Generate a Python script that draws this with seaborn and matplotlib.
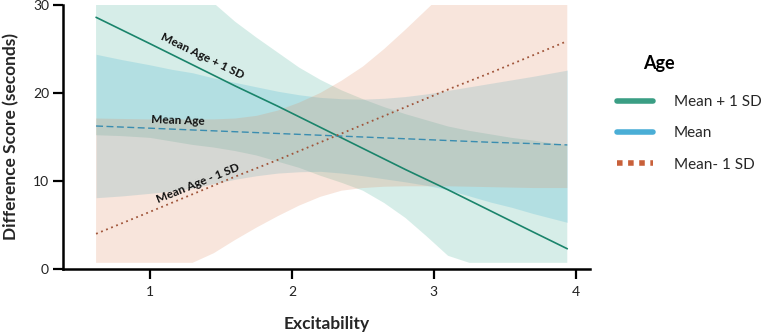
import numpy as np
import pandas as pd
import matplotlib
matplotlib.use("Agg")
import matplotlib.pyplot as plt
import seaborn as sns
from matplotlib.lines import Line2D

# ---- data ----
# regression lines
line_x     = [0.62, 1.0, 1.3, 1.6, 1.9, 2.2, 2.5, 2.8, 3.1, 3.4, 3.7, 3.94]
plus_line  = [28.6, 25.6, 23.2, 20.8, 18.5, 16.1, 13.7, 11.3, 9.0, 6.6, 4.2, 2.3]
mean_line  = [16.25, 16.0, 15.8, 15.6, 15.4, 15.2, 15.0, 14.8, 14.6, 14.4, 14.25, 14.1]
minus_line = [4.0, 6.5, 8.5, 10.5, 12.4, 14.4, 16.4, 18.4, 20.4, 22.3, 24.3, 25.9]

# confidence bands
band_x = [0.62, 0.8, 1.0, 1.15, 1.3, 1.45, 1.6, 1.75, 1.9, 2.05, 2.2, 2.35,
          2.5, 2.65, 2.8, 2.95, 3.1, 3.25, 3.4, 3.55, 3.7, 3.82, 3.94]
plus_upper = [42.0, 39.3, 36.5, 34.5, 32.4, 30.2, 28.1, 26.3, 24.6, 22.9, 21.5, 20.3,
              19.3, 18.4, 17.6, 16.9, 16.2, 15.7, 15.3, 14.9, 14.6, 14.3, 14.1]
plus_lower = [15.2, 15.1, 14.9, 14.5, 14.1, 13.8, 13.4, 12.9, 12.2, 11.5, 10.6, 9.8,
              8.9, 7.5, 5.8, 3.7, 1.5, -0.3, -2.0, -3.5, -5.0, -6.0, -7.0]
mean_upper = [24.4, 23.8, 23.2, 22.7, 22.3, 21.7, 21.2, 20.7, 20.2, 19.8, 19.5, 19.35,
              19.3, 19.4, 19.6, 19.9, 20.3, 20.7, 21.1, 21.5, 21.9, 22.25, 22.6]
mean_lower = [8.1, 8.3, 8.6, 8.85, 9.2, 9.7, 10.2, 10.6, 10.9, 11.05, 11.1, 10.9,
              10.6, 10.25, 9.9, 9.5, 9.0, 8.3, 7.6, 7.0, 6.3, 5.8, 5.3]
minus_upper = [17.1, 17.05, 17.0, 17.0, 17.0, 17.0, 17.1, 17.4, 18.0, 18.9, 20.0, 21.4,
               23.0, 25.0, 27.2, 29.5, 31.8, 34.0, 36.0, 38.0, 40.0, 41.0, 42.0]
minus_lower = [-9.0, -7.0, -5.0, -2.5, 0.0, 1.8, 3.3, 4.7, 6.0, 7.2, 8.2, 8.9,
               9.2, 9.35, 9.4, 9.4, 9.4, 9.35, 9.3, 9.25, 9.2, 9.2, 9.2]

groups = ["Mean + 1 SD", "Mean", "Mean- 1 SD"]
x_ticks = [1, 2, 3, 4]
y_ticks = [0, 10, 20, 30]

# ---- styling ----
sns.set_theme(style="white")
plt.rcParams["font.family"] = ["Lato", "DejaVu Sans"]

col_plus_line = "#1a846b"
col_plus_fill = "#34a98c"
col_mean_line = "#3a8db0"
col_mean_fill = "#3ab0d0"
col_minus_line = "#a0553a"
col_minus_fill = "#e08a60"
col_minus_leg = "#c8603a"

df = pd.DataFrame({
    "Excitability": line_x * 3,
    "Score": plus_line + mean_line + minus_line,
    "Age": sum([[g] * len(line_x) for g in groups], []),
})

fig = plt.figure(figsize=(7.62, 3.35), dpi=100)
ax = fig.add_axes([63 / 762, 1 - 269 / 335, (590 - 63) / 762, (269 - 5) / 335])

floor = 0.7
bx = np.array(band_x)
ax.fill_between(bx, np.clip(plus_lower, floor, None), plus_upper,
                color=col_plus_fill, alpha=0.2, lw=0, zorder=1)
ax.fill_between(bx, np.clip(mean_lower, floor, None), mean_upper,
                color=col_mean_fill, alpha=0.22, lw=0, zorder=1)
ax.fill_between(bx, np.clip(minus_lower, floor, None), minus_upper,
                color=col_minus_fill, alpha=0.22, lw=0, zorder=1)

palette = {groups[0]: col_plus_line, groups[1]: col_mean_line, groups[2]: col_minus_line}
sns.lineplot(data=df, x="Excitability", y="Score", hue="Age", style="Age",
             palette=palette,
             dashes={groups[0]: "", groups[1]: (5, 2.5), groups[2]: (1, 2)},
             size="Age", sizes={groups[0]: 1.2, groups[1]: 1.0, groups[2]: 1.3},
             legend=False, ax=ax, zorder=3)

ax.set_xlim(0.387, 4.10)
ax.set_ylim(0, 30)
ax.set_xticks(x_ticks)
ax.set_yticks(y_ticks)
ax.tick_params(axis="both", which="major", direction="out", length=7, width=1.6,
               color="black", labelsize=10, labelcolor="#222222", bottom=True, left=True)
ax.tick_params(axis="x", pad=5)
ax.tick_params(axis="y", pad=3)
for s in ["top", "right"]:
    ax.spines[s].set_visible(False)
for s in ["left", "bottom"]:
    ax.spines[s].set_color("black")
    ax.spines[s].set_linewidth(1.8)

ax.set_xlabel("Excitability", fontsize=12.5, fontweight="bold", labelpad=13)
ax.set_ylabel("Difference Score (seconds)", fontsize=12.5, fontweight="bold", labelpad=10)

# line annotations
ax.text(1.37, 24.2, "Mean Age + 1 SD", rotation=-26, fontsize=8.5, fontweight="bold",
        ha="center", va="center", color="#111111", zorder=4)
ax.text(1.2, 16.9, "Mean Age", rotation=-2, fontsize=8.5, fontweight="bold",
        ha="center", va="center", color="#111111", zorder=4)
ax.text(1.34, 9.7, "Mean Age - 1 SD", rotation=22, fontsize=8.5, fontweight="bold",
        ha="center", va="center", color="#111111", zorder=4)

# legend
handles = [
    Line2D([0], [0], color="#3a9e84", lw=4),
    Line2D([0], [0], color="#4aaed6", lw=4),
    Line2D([0], [0], color=col_minus_leg, lw=4, linestyle=(0, (1, 1))),
]
fig.text(659 / 762, 1 - 63 / 335, "Age", fontsize=13, fontweight="bold",
         ha="center", va="center", color="black")
fig.legend(handles, groups, loc="upper left",
           bbox_to_anchor=(617 / 762, 1 - 95 / 335), frameon=False,
           borderpad=0, borderaxespad=0,
           fontsize=11, handlelength=2.35, handletextpad=1.37, labelspacing=1.14)

fig.savefig("out.png", dpi=100)
